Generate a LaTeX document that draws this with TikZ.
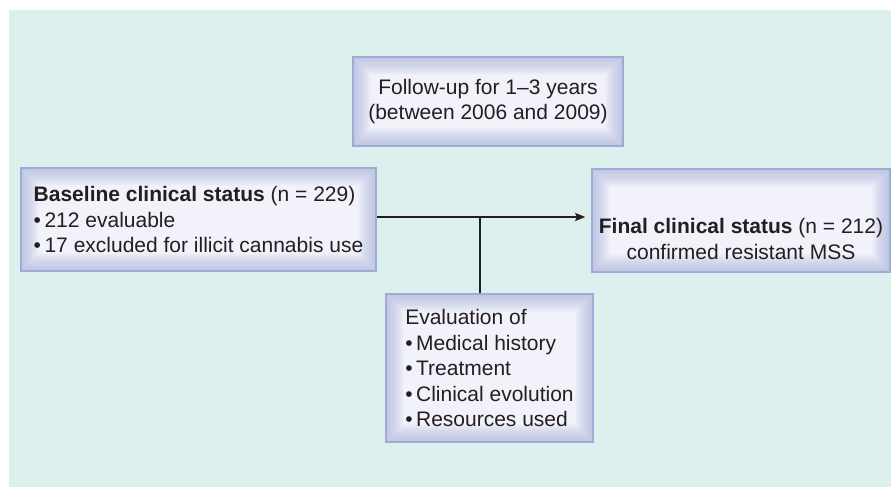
\documentclass[tikz,border=0pt]{standalone}
\usepackage{fontspec}
\setmainfont{Liberation Sans}
\usetikzlibrary{arrows.meta}

\definecolor{panel}{RGB}{222,240,237}
\definecolor{boxline}{RGB}{155,172,214}
\definecolor{boxin}{RGB}{242,243,250}
\definecolor{boxout}{RGB}{170,180,222}
\definecolor{ink}{RGB}{35,31,32}

\tikzset{
    stage/.style={draw=boxline, line width=0.75pt, fill=boxin,
        path picture={
            \foreach \w in {1,...,18}
                \draw[boxout, opacity=0.05, line width=\w pt]
                    (path picture bounding box.south west) rectangle (path picture bounding box.north east);
        },
        text=ink, inner sep=0pt, font=\fontsize{10.5pt}{12.75pt}\selectfont},
    flow/.style={draw=ink, line width=1pt},
}

\begin{document}
\begin{tikzpicture}[x=0.5pt,y=-0.5pt]
        \useasboundingbox (0,0) rectangle (891,487);
        \fill[panel] (9,10) rectangle (891,487);

        \node[stage, minimum width=135pt, minimum height=44.5pt, align=center] (followup) at (488,101.5)
            {Follow-up for 1–3 years\\(between 2006 and 2009)};
        \node[stage, minimum width=177.5pt, minimum height=51.5pt, align=left] (baseline) at (198.5,219.5)
            {\textbf{Baseline clinical status} (n = 229)\\•\,212 evaluable\\•\,17 excluded for illicit cannabis use};
        \node[stage, minimum width=149pt, minimum height=51.5pt, align=center] (final) at (741,220.5)
            {\rule{0pt}{26pt}\textbf{Final clinical status} (n = 212)\\confirmed resistant MSS};
        \node[stage, minimum width=103.5pt, minimum height=74pt, align=left] (evaluation) at (489.5,368)
            {Evaluation of\\•\,Medical history\\•\,Treatment\\•\,Clinical evolution\\•\,Resources used};

        \coordinate (split) at (480,217);
        \draw[flow, -{Stealth[length=5pt, width=4pt, inset=0.8pt]}, shorten >=3pt]
            (baseline.east |- split) -- (final.west |- split);
        \draw[flow] (evaluation.north -| split) -- (split);
    \end{tikzpicture}
\end{document}
